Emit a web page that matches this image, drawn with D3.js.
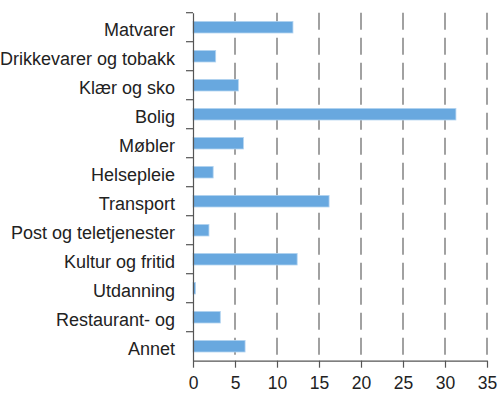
<!DOCTYPE html>
<html>
<head>
<meta charset="utf-8">
<script src="https://cdn.jsdelivr.net/npm/d3@7"></script>
<style>
  body { margin: 0; background: #fff; }
  svg { display: block; font-family: "Liberation Sans", Arial, sans-serif; }
</style>
</head>
<body>
<div id="chart"></div>
<script>
const categories = ['Matvarer', 'Drikkevarer og tobakk', 'Klær og sko', 'Bolig', 'Møbler', 'Helsepleie',
  'Transport', 'Post og teletjenester', 'Kultur og fritid', 'Utdanning', 'Restaurant- og', 'Annet']
const values = [11.9, 2.7, 5.4, 31.3, 6.0, 2.4, 16.2, 1.9, 12.4, 0.3, 3.25, 6.2]
const xTicks = [0, 5, 10, 15, 20, 25, 30, 35]

const width = 500, height = 406
const margin = { top: 12.7, right: 13, bottom: 45.3, left: 193 }

const svg = d3.select('#chart').append('svg')
  .attr('width', width)
  .attr('height', height)

const x = d3.scaleLinear().domain([0, 35]).range([margin.left, width - margin.right])
const y = d3.scaleBand().domain(categories).range([margin.top, height - margin.bottom]).paddingInner(0.6).paddingOuter(0.3)
const yb = d3.scaleBand().domain(categories).range([margin.top, height - margin.bottom])

// dashed grid
svg.append('g')
  .selectAll('line')
  .data(xTicks.slice(1))
  .join('line')
  .attr('x1', d => x(d)).attr('x2', d => x(d))
  .attr('y1', margin.top).attr('y2', height - margin.bottom)
  .attr('stroke', '#555')
  .attr('stroke-width', 1.1)
  .attr('stroke-dasharray', '17,8')

// bars
svg.append('g')
  .selectAll('rect')
  .data(categories)
  .join('rect')
  .attr('x', x(0))
  .attr('y', d => y(d))
  .attr('width', (d, i) => x(values[i]) - x(0))
  .attr('height', y.bandwidth())
  .attr('fill', '#68a8df')
  .attr('stroke', '#b3d4f1')
  .attr('stroke-width', 0.8)

// y axis
const yAxis = svg.append('g')
  .attr('transform', `translate(${x(0)},0)`)
  .call(d3.axisLeft(yb).tickSize(0).tickPadding(18))
yAxis.select('.domain').attr('stroke', '#555').attr('stroke-width', 1.2)
yAxis.selectAll('text')
  .attr('font-size', 18)
  .attr('fill', '#222')
  .attr('dy', '0.5em')
  .attr('font-family', '"Liberation Sans", Arial, sans-serif')
yAxis.append('g')
  .selectAll('line')
  .data(categories)
  .join('line')
  .attr('x1', -7).attr('x2', 0)
  .attr('y1', d => yb(d)).attr('y2', d => yb(d))
  .attr('stroke', '#555').attr('stroke-width', 1.2)

// x axis
const xAxis = svg.append('g')
  .attr('transform', `translate(0,${height - margin.bottom})`)
  .call(d3.axisBottom(x).tickValues(xTicks).tickSize(7).tickSizeOuter(0).tickPadding(9))
xAxis.select('.domain').attr('stroke', '#555').attr('stroke-width', 1.2)
xAxis.selectAll('.tick line').attr('stroke', '#555').attr('stroke-width', 1.2)
xAxis.selectAll('text')
  .attr('font-size', 17.5)
  .attr('fill', '#222')
  .attr('font-family', '"Liberation Sans", Arial, sans-serif')
</script>
</body>
</html>
